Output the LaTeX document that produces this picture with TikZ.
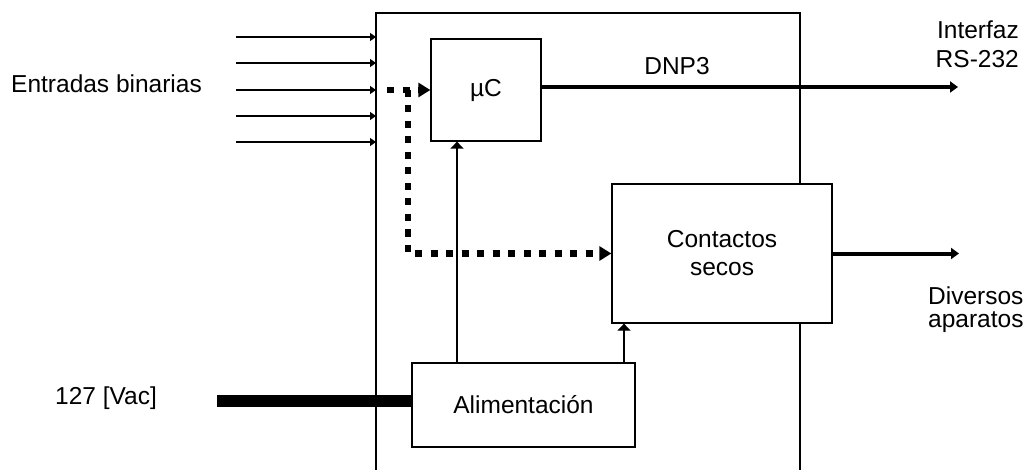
\documentclass[tikz,border=0pt]{standalone}
\usepackage{fontspec}
\setmainfont{Liberation Sans}
\usetikzlibrary{arrows.meta,calc}
\begin{document}
\begin{tikzpicture}[x=1pt,y=-1pt,
  lbl/.style={font=\fontsize{24.5}{29}\selectfont, inner sep=0pt},
  blk/.style={draw, line width=1.3pt, fill=white, inner sep=0pt, font=\fontsize{24.5}{28}\selectfont, align=center},
  frameline/.style={line width=1.3pt},
  inarr/.style={line width=1.3pt, -{Triangle[length=6pt,width=8pt]}},
  uparr/.style={line width=1.3pt, -{Triangle[length=7pt,width=13pt]}},
  bigarr/.style={line width=4pt, -{Triangle[length=8pt,width=11pt]}},
  dots/.style={line width=6.5pt, dash pattern=on 7pt off 8.5pt, -{Triangle[length=12pt,width=14pt]}},
  powerline/.style={line width=12pt},
]
\useasboundingbox (0,0) rectangle (1032,470);

% outer frame (open at the bottom)
\draw[frameline] (376,470) -- (376,13) -- (800,13) -- (800,470);

% blocks
\node[blk, minimum width=110pt, minimum height=102pt] (mc) at (486,90) {µC};
\node[blk, minimum width=220pt, minimum height=139pt] (cs) at (722,253.5) {Contactos\\secos};
\node[blk, minimum width=223pt, minimum height=84pt] (al) at (523.5,405) {Alimentación};

% labels
\node[lbl, anchor=base west] (eb) at (11,93) {Entradas binarias};
\node[lbl, anchor=base] (dnp) at (677,75) {DNP3};
\node[lbl, anchor=base west] (vac) at (55,404) {127 [Vac]};
\node[lbl, anchor=base east] (if1) at (1019,39) {Interfaz};
\node[lbl, anchor=base east] (if2) at (1019,68) {RS-232};
\node[lbl, anchor=base west] (dv1) at (928,304) {Diversos};
\node[lbl, anchor=base west] (dv2) at (928,327) {aparatos};

% binary inputs
\foreach \y [count=\i] in {37,63,90,116,142} {
  \coordinate (s\i) at (236,\y);
  \coordinate (e\i) at (376,\y);
  \draw[inarr] (s\i) -- (e\i);
}

% dotted signal paths
\coordinate (d0) at (387,90);
\coordinate (dc) at (408,90);
\draw[dots] (d0) -- (mc.west);
\draw[dots] (dc) |- (cs.west);

% outputs
\coordinate (o1) at (958,87);
\draw[bigarr] (mc.east |- o1) -- (o1);
\coordinate (o2) at (959,253.5);
\draw[bigarr] (cs.east) -- (o2);

% power input
\coordinate (p0) at (217,401);
\draw[powerline] (p0) -- (p0 -| al.west);

% power distribution
\coordinate (ux1) at (457,0);
\coordinate (ux2) at (624,0);
\draw[uparr] (al.north -| ux1) -- (mc.south -| ux1);
\draw[uparr] (al.north -| ux2) -- (cs.south -| ux2);
\end{tikzpicture}
\end{document}
